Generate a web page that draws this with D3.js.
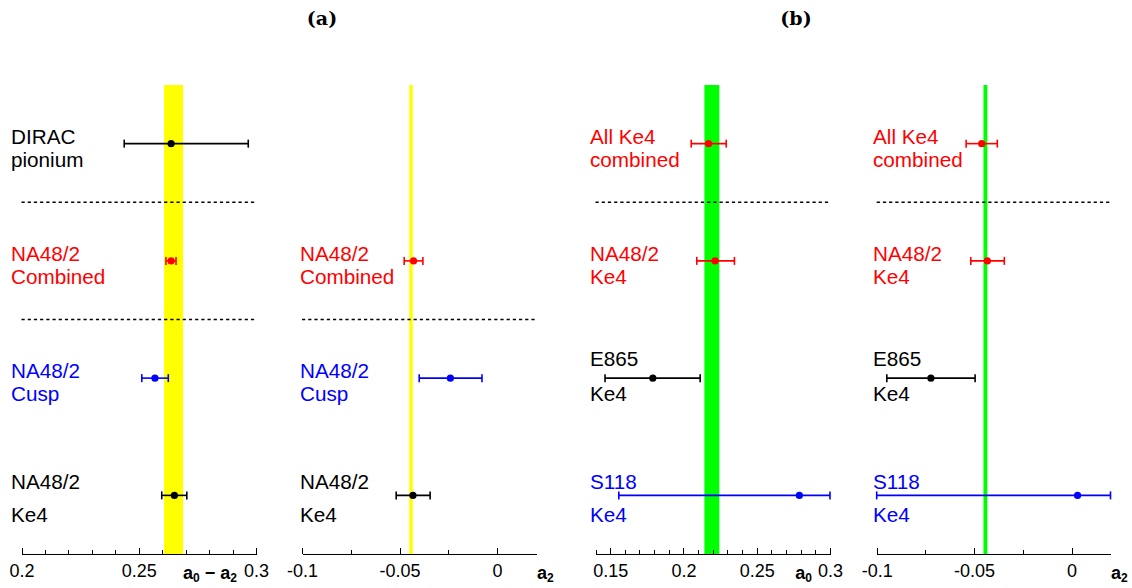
<!DOCTYPE html>
<html>
<head>
<meta charset="utf-8">
<script src="https://cdn.jsdelivr.net/npm/d3@7"></script>
<style>
  body { margin: 0; background: #fff; }
  svg { display: block; }
  .eje path, .eje line { stroke: #000; stroke-width: 1; shape-rendering: crispEdges; }
  .eje text { font-family: "Liberation Sans", Arial, sans-serif; font-size: 18px; fill: #000; }
  .etiqueta { font-family: "Liberation Sans", Arial, sans-serif; font-size: 20.7px; }
  .titulo { font-family: "DejaVu Serif", serif; font-weight: bold; font-size: 19px; }
  .tit-eje { font-family: "Liberation Sans", Arial, sans-serif; font-weight: bold; }
</style>
</head>
<body>
<div id="grafico"></div>
<script>
/////////// DATOS /////////
// (a) a0 - a2
var etiquetasA1 = [["DIRAC", "pionium"], ["NA48/2", "Combined"], ["NA48/2", "Cusp"], ["NA48/2", "Ke4"]];
var coloresA1 = ["black", "red", "blue", "black"];
var filasA1 = [0, 1, 2, 3];
var valA1 = [0.2638, 0.2638, 0.2569, 0.2652];
var minA1 = [0.2438, 0.2616, 0.2513, 0.2598];
var maxA1 = [0.2967, 0.2659, 0.2626, 0.2705];
var bandaA1 = [0.2608, 0.2689];
var ticksA1 = [0.2, 0.25, 0.3];

// (a) a2
var etiquetasA2 = [["NA48/2", "Combined"], ["NA48/2", "Cusp"], ["NA48/2", "Ke4"]];
var coloresA2 = ["red", "blue", "black"];
var filasA2 = [1, 2, 3];
var valA2 = [-0.0428, -0.0239, -0.0431];
var minA2 = [-0.0476, -0.0399, -0.0517];
var maxA2 = [-0.0380, -0.0077, -0.0343];
var bandaA2 = [-0.0450, -0.0432];
var ticksA2 = [-0.1, -0.05, 0];

// (b) a0
var etiquetasB1 = [["All Ke4", "combined"], ["NA48/2", "Ke4"], ["E865", "Ke4"], ["S118", "Ke4"]];
var coloresB1 = ["red", "red", "black", "blue"];
var filasB1 = [0, 1, 2, 3];
var valB1 = [0.2171, 0.2216, 0.1791, 0.2791];
var minB1 = [0.2053, 0.2091, 0.1465, 0.1559];
var maxB1 = [0.2292, 0.2348, 0.2114, 0.30];
var bandaB1 = [0.2143, 0.2245];
var ticksB1 = [0.15, 0.2, 0.25, 0.3];

// (b) a2
var etiquetasB2 = etiquetasB1;
var coloresB2 = coloresB1;
var filasB2 = [0, 1, 2, 3];
var valB2 = [-0.0461, -0.0432, -0.0722, 0.0031];
var minB2 = [-0.0541, -0.0517, -0.0948, -0.10];
var maxB2 = [-0.0381, -0.0345, -0.0495, 0.02];
var bandaB2 = [-0.0452, -0.0432];
var ticksB2 = [-0.1, -0.05, 0];

/////////// DISTANCIA /////////
var ancho = 1132, alto = 588;
var arriba = 85, abajo = 554;

var svg = d3.select("#grafico").append("svg")
  .attr("width", ancho)
  .attr("height", alto);

// Escala vertical comun (filas)
var y = d3.scaleLinear().domain([-0.5, 3.5]).range([arriba, abajo]);

// Desplazamiento de las dos lineas de cada etiqueta
function desplaz(panelB, fila) {
  if (fila == 3) return [-6, 27];
  if (fila == 2 && panelB) return [-12, 23];
  return [0, 23];
}

function panel(p) {
  var x = d3.scaleLinear().domain(p.dominio).range(p.rango);
  var g = svg.append("g");

  // Banda de color
  g.append("rect")
    .attr("x", x(p.banda[0]))
    .attr("width", x(p.banda[1]) - x(p.banda[0]))
    .attr("y", arriba)
    .attr("height", abajo - arriba)
    .attr("fill", p.colorBanda);

  // Lineas punteadas de separacion
  g.selectAll(".sep")
    .data(p.separadores)
    .enter().append("line")
    .attr("x1", p.rango[0]).attr("x2", p.rango[1])
    .attr("y1", function(d) { return y(d); })
    .attr("y2", function(d) { return y(d); })
    .attr("stroke", "#000")
    .attr("stroke-width", 1.3)
    .attr("stroke-dasharray", "3.2,3");

  // Eje con marcas menores
  g.append("g").attr("class", "eje")
    .attr("transform", "translate(0," + abajo + ")")
    .call(d3.axisBottom(x).tickValues(d3.range(p.dominio[0], p.dominio[1] + 1e-9, p.paso))
      .tickSizeInner(-4).tickSizeOuter(0).tickFormat(""));

  // Eje con marcas mayores
  g.append("g").attr("class", "eje")
    .attr("transform", "translate(0," + abajo + ")")
    .call(d3.axisBottom(x).tickValues(p.ticks).tickSizeInner(-6.5).tickSizeOuter(0)
      .tickPadding(10).tickFormat(function(d) { return String(+d.toFixed(3)); }))
    .select(".domain").remove();

  var datos = p.filas.map(function(f, i) {
    return { fila: f, val: p.val[i], min: p.min[i], max: p.max[i], color: p.colores[i], txt: p.etiquetas[i] };
  });

  // Barras de error
  var puntos = g.selectAll(".punto").data(datos).enter().append("g");
  puntos.append("line")
    .attr("x1", function(d) { return x(d.min); })
    .attr("x2", function(d) { return x(d.max); })
    .attr("y1", function(d) { return y(d.fila); })
    .attr("y2", function(d) { return y(d.fila); })
    .attr("stroke", function(d) { return d.color; })
    .attr("stroke-width", 1.6);
  [ "min", "max" ].forEach(function(k) {
    puntos.append("line")
      .attr("x1", function(d) { return x(d[k]); })
      .attr("x2", function(d) { return x(d[k]); })
      .attr("y1", function(d) { return y(d.fila) - 4; })
      .attr("y2", function(d) { return y(d.fila) + 4; })
      .attr("stroke", function(d) { return d.color; })
      .attr("stroke-width", 1.6);
  });
  puntos.append("circle")
    .attr("cx", function(d) { return x(d.val); })
    .attr("cy", function(d) { return y(d.fila); })
    .attr("r", 3.6)
    .attr("fill", function(d) { return d.color; });

  // Etiquetas
  var et = g.selectAll(".etiqueta").data(datos).enter().append("text")
    .attr("class", "etiqueta")
    .attr("fill", function(d) { return d.color; });
  et.append("tspan")
    .attr("x", p.xEtiqueta)
    .attr("y", function(d) { return y(d.fila) + desplaz(p.esB, d.fila)[0]; })
    .text(function(d) { return d.txt[0]; });
  et.append("tspan")
    .attr("x", p.xEtiqueta)
    .attr("y", function(d) { return y(d.fila) + desplaz(p.esB, d.fila)[1]; })
    .text(function(d) { return d.txt[1]; });

  // Titulo del eje (a con subindices)
  var t = svg.append("text").attr("class", "tit-eje")
    .attr("x", p.xTitulo).attr("y", 579)
    .attr("text-anchor", p.anclaTitulo);
  p.titulo.forEach(function(s) {
    t.append("tspan")
      .attr("dy", s[1] == 1 ? 3 : (s[1] == 2 ? -3 : 0))
      .attr("font-size", s[1] == 1 ? "12px" : "18px")
      .text(s[0]);
  });
}

panel({ dominio: [0.2, 0.3], rango: [21.5, 256], paso: 0.01, ticks: ticksA1,
  banda: bandaA1, colorBanda: "#ffff00", separadores: [0.5, 1.5],
  filas: filasA1, val: valA1, min: minA1, max: maxA1, colores: coloresA1, etiquetas: etiquetasA1,
  xEtiqueta: 11, esB: false,
  titulo: [["a", 0], ["0", 1], [" \u2212 a", 2], ["2", 1]], xTitulo: 237, anclaTitulo: "end" });

panel({ dominio: [-0.1, 0.02], rango: [302, 536], paso: 0.025, ticks: ticksA2,
  banda: bandaA2, colorBanda: "#ffff00", separadores: [1.5],
  filas: filasA2, val: valA2, min: minA2, max: maxA2, colores: coloresA2, etiquetas: etiquetasA2,
  xEtiqueta: 300, esB: false,
  titulo: [["a", 0], ["2", 1]], xTitulo: 537, anclaTitulo: "start" });

panel({ dominio: [0.14, 0.3], rango: [595.5, 830], paso: 0.01, ticks: ticksB1,
  banda: bandaB1, colorBanda: "#00ff00", separadores: [0.5],
  filas: filasB1, val: valB1, min: minB1, max: maxB1, colores: coloresB1, etiquetas: etiquetasB1,
  xEtiqueta: 590, esB: true,
  titulo: [["a", 0], ["0", 1]], xTitulo: 812, anclaTitulo: "end" });

panel({ dominio: [-0.1, 0.02], rango: [876.7, 1110.5], paso: 0.025, ticks: ticksB2,
  banda: bandaB2, colorBanda: "#00ff00", separadores: [0.5],
  filas: filasB2, val: valB2, min: minB2, max: maxB2, colores: coloresB2, etiquetas: etiquetasB2,
  xEtiqueta: 873, esB: true,
  titulo: [["a", 0], ["2", 1]], xTitulo: 1111, anclaTitulo: "start" });

/////////// TITULOS /////////
svg.append("text").attr("class", "titulo")
  .attr("x", 322).attr("y", 25).attr("text-anchor", "middle").text("(a)");
svg.append("text").attr("class", "titulo")
  .attr("x", 796).attr("y", 25).attr("text-anchor", "middle").text("(b)");
</script>
</body>
</html>
